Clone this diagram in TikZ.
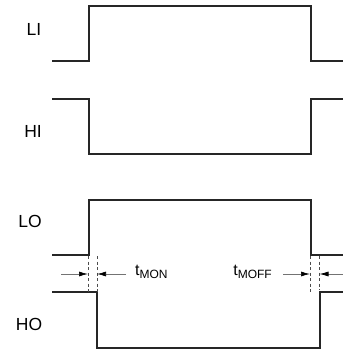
\documentclass[tikz,border=0pt]{standalone}
\usepackage{fontspec}
\setmainfont{Liberation Sans}
\usetikzlibrary{arrows.meta}

\begin{document}
\begin{tikzpicture}[x=1pt, y=-1pt,
    wave/.style={line width=1.6pt, black!85},
    guide/.style={dash pattern=on 3pt off 2.5pt, line width=0.8pt, black!70},
    timing/.style={line width=0.7pt, black!55, -{Latex[length=9pt, width=5pt, black]}},
    siglabel/.style={font=\fontsize{17.5}{17.5}\selectfont, inner sep=0pt},
    tlabel/.style={font=\fontsize{16}{16}\selectfont, inner sep=0pt}
    ]
    \useasboundingbox (0,0) rectangle (343,354);

    % signal names
    \node [siglabel] (li) at (34, 29) {LI};
    \node [siglabel] (hi) at (33, 131) {HI};
    \node [siglabel] (lo) at (30, 221) {LO};
    \node [siglabel] (ho) at (29, 324) {HO};

    % waveforms
    \draw [wave] (52, 61) -- (89, 61) -- (89, 6) -- (311, 6) -- (311, 61) -- (343, 61);
    \draw [wave] (52, 99) -- (89, 99) -- (89, 154) -- (311, 154) -- (311, 99) -- (343, 99);
    \draw [wave] (52, 255) -- (89, 255) -- (89, 200) -- (311, 200) -- (311, 255) -- (343, 255);
    \draw [wave] (52, 292) -- (97, 292) -- (97, 348) -- (320, 348) -- (320, 292) -- (343, 292);

    % dead time guides
    \coordinate (a1) at (88, 274);
    \coordinate (a2) at (97, 274);
    \coordinate (b1) at (310, 274);
    \coordinate (b2) at (319.5, 274);
    \draw [guide] (88, 256) -- (88, 292);
    \draw [guide] (97, 256) -- (97, 292);
    \draw [guide] (310, 256) -- (310, 292);
    \draw [guide] (319.5, 256) -- (319.5, 290);

    % arrows and labels
    \coordinate (a0) at (61, 274);
    \coordinate (a3) at (126, 274);
    \coordinate (b0) at (283, 274);
    \coordinate (b3) at (343, 274);
    \draw [timing] (a0) -- (a1);
    \draw [timing] (a3) -- (a2);
    \draw [timing] (b0) -- (b1);
    \draw [timing] (b3) -- (b2);

    \node [tlabel, anchor=base west] (tmon) at (135, 275) {t\raisebox{-3pt}{\fontsize{12}{12}\selectfont MON}};
    \node [tlabel, anchor=base east] (tmoff) at (272, 275) {t\raisebox{-3pt}{\fontsize{12}{12}\selectfont MOFF}};
\end{tikzpicture}
\end{document}
